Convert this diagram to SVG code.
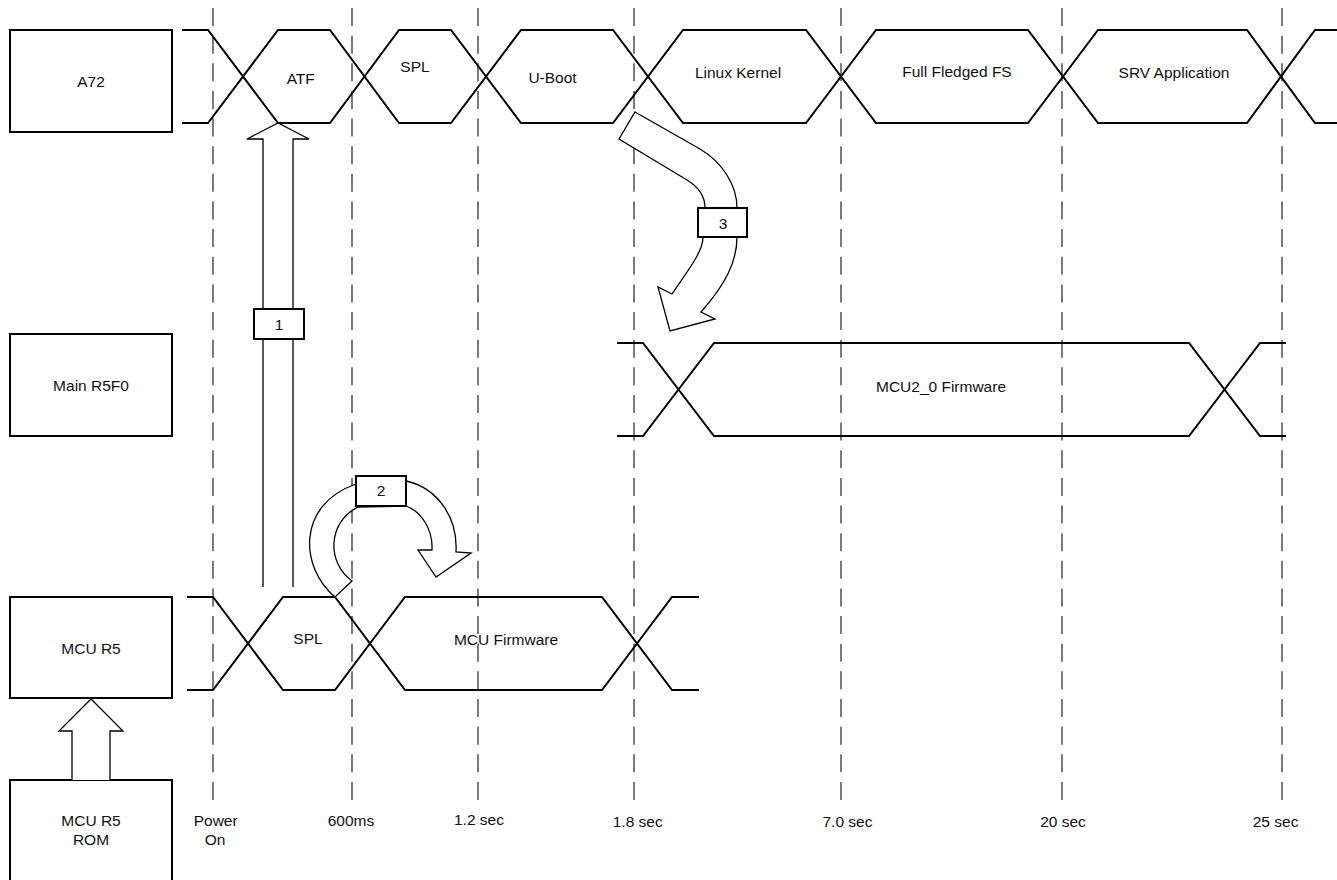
<svg xmlns="http://www.w3.org/2000/svg" width="1337" height="880" viewBox="0 0 1337 880">
<style>
text{font-family:"Liberation Sans",Arial,sans-serif;font-size:15.5px;fill:#111;text-anchor:middle}
.box{fill:#fff;stroke:#000;stroke-width:2}
.sig{fill:none;stroke:#000;stroke-width:2;stroke-linejoin:miter}
.dash{stroke:#222;stroke-width:1.2;stroke-dasharray:18 9.64}
.blk{fill:#fff;stroke:#000;stroke-width:1.3;stroke-linejoin:miter}
.lbl{fill:#fff;stroke:#000;stroke-width:2}
</style>
<rect width="1337" height="880" fill="#fff"/>
<g id="gridlines">
<line class="dash" x1="213" y1="8" x2="213" y2="800"/>
<line class="dash" x1="352" y1="8" x2="352" y2="800"/>
<line class="dash" x1="478" y1="8" x2="478" y2="800"/>
<line class="dash" x1="634" y1="8" x2="634" y2="800"/>
<line class="dash" x1="841" y1="8" x2="841" y2="800"/>
<line class="dash" x1="1062" y1="8" x2="1062" y2="800"/>
<line class="dash" x1="1282" y1="8" x2="1282" y2="800"/>
</g>
<g id="a72-row">
<polyline class="sig" points="182,30 208,30 278,123 330,123 399,30 451,30 521,123 613,123 683,30 806,30 876,123 1028,123 1098,30 1247,30 1315,123 1337,123"/>
<polyline class="sig" points="182,123 208,123 278,30 330,30 399,123 451,123 521,30 613,30 683,123 806,123 876,30 1028,30 1098,123 1247,123 1315,30 1337,30"/>
<text x="300.7" y="83.5">ATF</text>
<text x="415" y="72">SPL</text>
<text x="552.5" y="82.5">U-Boot</text>
<text x="738" y="78">Linux Kernel</text>
<text x="957" y="77">Full Fledged FS</text>
<text x="1174" y="77.5">SRV Application</text>
</g>
<g id="main-r5f0-row">
<polyline class="sig" points="617,343 643,343 714,436 1189,436 1260,343 1286,343"/>
<polyline class="sig" points="617,436 643,436 714,343 1189,343 1260,436 1286,436"/>
<text x="941" y="392">MCU2_0 Firmware</text>
</g>
<g id="mcu-r5-row">
<polyline class="sig" points="187,597 213,597 283,690 335,690 405,597 602,597 672,690 699,690"/>
<polyline class="sig" points="187,690 213,690 283,597 335,597 405,690 602,690 672,597 699,597"/>
<text x="308" y="644">SPL</text>
<text x="506" y="644.5">MCU Firmware</text>
</g>
<g id="node-a72">
<rect class="box" x="10" y="30" width="162" height="102"/>
<text x="91" y="87">A72</text>
</g>
<g id="node-main-r5f0">
<rect class="box" x="10" y="334" width="162" height="102"/>
<text x="91" y="390.5">Main R5F0</text>
</g>
<g id="node-mcu-r5">
<rect class="box" x="10" y="597" width="162" height="101"/>
<text x="91" y="654">MCU R5</text>
</g>
<g id="node-mcu-r5-rom">
<rect class="box" x="10" y="780" width="162" height="110"/>
<text x="91" y="826">MCU R5</text>
<text x="91" y="845">ROM</text>
</g>
<g id="connectors">
<path class="blk" d="M72,780 L72,731 L59,731 L91,699 L123,731 L110,731 L110,780"/>
<path class="blk" d="M263,587 L263,139 L247,139 L278,123 L309,139 L293,139 L293,587"/>
<path class="blk" d="M335,597 C300,568 296,505 356,484 L406,481 C438,488 458,518 456,552 L471,553 L436,577 L418,550 L432,550 C433,530 422,512 406,506 L358,507 C328,522 326,562 352,581 Z"/>
<path class="blk" d="M635,112 L700,149 C722,162 737,185 737,208 L737,237 C737,262 725,285 701,312 L715,319 L670,331 L658,287 L672,294 C688,270 703,252 703,237 L705,208 C705,195 697,186 687,180 L619,139 Z"/>
</g>
<g id="step-1">
<rect class="lbl" x="254" y="309" width="50" height="30"/>
<text x="279" y="329.5">1</text>
</g>
<g id="step-2">
<rect class="lbl" x="356" y="476" width="50" height="30"/>
<text x="381" y="496">2</text>
</g>
<g id="step-3">
<rect class="lbl" x="698" y="208" width="49" height="29"/>
<text x="723" y="228.5">3</text>
</g>
<g id="time-labels">
<text x="215.7" y="826">Power</text>
<text x="215" y="845">On</text>
<text x="351" y="825.5">600ms</text>
<text x="479" y="825">1.2 sec</text>
<text x="637.7" y="827">1.8 sec</text>
<text x="847.5" y="827">7.0 sec</text>
<text x="1063" y="827">20 sec</text>
<text x="1275.6" y="827">25 sec</text>
</g>
</svg>
